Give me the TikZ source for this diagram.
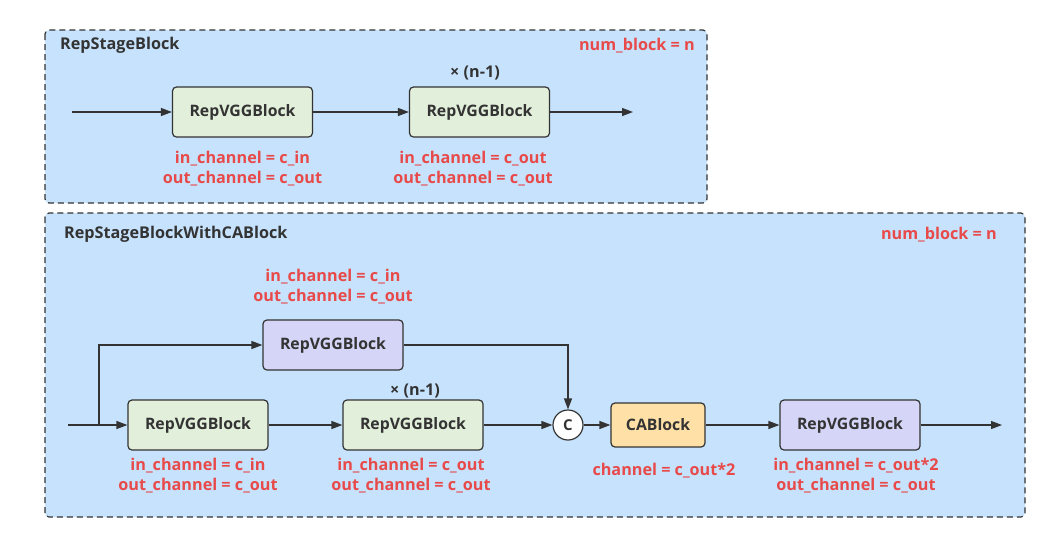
\documentclass[tikz,border=0pt]{standalone}
\usepackage{fontspec}
\setmainfont{Open Sans}
\usetikzlibrary{arrows.meta,positioning}
\definecolor{bgblue}{HTML}{C6E2FC}
\definecolor{edge}{HTML}{333333}
\definecolor{gfill}{HTML}{E2EFDA}
\definecolor{pfill}{HTML}{D5D5F7}
\definecolor{ofill}{HTML}{FFE0A6}
\definecolor{redtxt}{HTML}{E84A4A}
\tikzset{
  panel/.style={draw=edge, fill=bgblue, dashed, dash pattern=on 6pt off 4pt, line width=1.2pt, rounded corners=4pt},
  blk/.style={draw=edge, line width=1.2pt, rounded corners=4pt, minimum width=140pt, minimum height=50pt, font=\fontsize{15.8}{18}\selectfont\bfseries, text=edge, inner sep=0pt},
  gblk/.style={blk, fill=gfill},
  pblk/.style={blk, fill=pfill},
  oblk/.style={blk, fill=ofill, minimum width=94pt, minimum height=44pt},
  lbl/.style={text=redtxt, font=\fontsize{16.2}{20}\selectfont\bfseries, align=center, inner sep=0pt},
  ttl/.style={text=edge, font=\fontsize{16.2}{18}\selectfont\bfseries, inner sep=0pt},
  arr/.style={draw=edge, line width=1.2pt, -{Triangle[length=11pt,width=8pt]}},
}
\begin{document}
\begin{tikzpicture}[x=1pt,y=-1pt]
\useasboundingbox (0,0) rectangle (1056,542);
\fill[white] (0,0) rectangle (1056,542);
% panels
\draw[panel] (45,30) rectangle (707,203);
\draw[panel] (45,213) rectangle (1025,517);
% top panel
\node[ttl, anchor=west] (t1) at (60,45.5) {RepStageBlock};
\node[lbl, anchor=east] (n1) at (695,45.5) {num\_block = n};
\coordinate (s1) at (72,112);
\node[gblk] (a1) at (242.5,112) {RepVGGBlock};
\node[gblk] (b1) at (479.5,112) {RepVGGBlock};
\coordinate (e1) at (633,112);
\node[ttl] (x1) at (475,72.5) {× (n-1)};
\node[lbl] (la1) at (242.5,168.5) {in\_channel = c\_in\\out\_channel = c\_out};
\node[lbl] (lb1) at (473,168.5) {in\_channel = c\_out\\out\_channel = c\_out};
\draw[arr] (s1) -- (a1);
\draw[arr] (a1) -- (b1);
\draw[arr] (b1) -- (e1);
% bottom panel
\node[ttl, anchor=west] (t2) at (64,234.5) {RepStageBlockWithCABlock};
\node[lbl, anchor=east] (n2) at (997,234.5) {num\_block = n};
\node[lbl] (lt) at (333,286.5) {in\_channel = c\_in\\out\_channel = c\_out};
\node[pblk] (p1) at (333,345) {RepVGGBlock};
\node[gblk] (a2) at (198,425) {RepVGGBlock};
\node[gblk] (b2) at (413,425) {RepVGGBlock};
\node[ttl] (x2) at (415,390.5) {× (n-1)};
\node[circle, draw=edge, fill=white, line width=1.2pt, minimum size=30pt, inner sep=0pt, font=\fontsize{15}{16}\selectfont\bfseries, text=edge] (c) at (568,425) {C};
\node[oblk] (ca) at (658,425) {CABlock};
\node[pblk] (p2) at (850,425) {RepVGGBlock};
\coordinate (s2) at (68,425);
\coordinate (br) at (99,425);
\coordinate (e2) at (1002,425);
\node[lbl] (la2) at (198,475.5) {in\_channel = c\_in\\out\_channel = c\_out};
\node[lbl] (lb2) at (411,475.5) {in\_channel = c\_out\\out\_channel = c\_out};
\node[lbl] (lc) at (664,470.5) {channel = c\_out*2};
\node[lbl] (lp2) at (856,475.5) {in\_channel = c\_out*2\\out\_channel = c\_out};
\draw[arr] (s2) -- (a2);
\draw[arr] (br) |- (p1);
\draw[arr] (p1) -| (c);
\draw[arr] (a2) -- (b2);
\draw[arr] (b2) -- (c);
\draw[arr] (c) -- (ca);
\draw[arr] (ca) -- (p2);
\draw[arr] (p2) -- (e2);
\end{tikzpicture}
\end{document}
